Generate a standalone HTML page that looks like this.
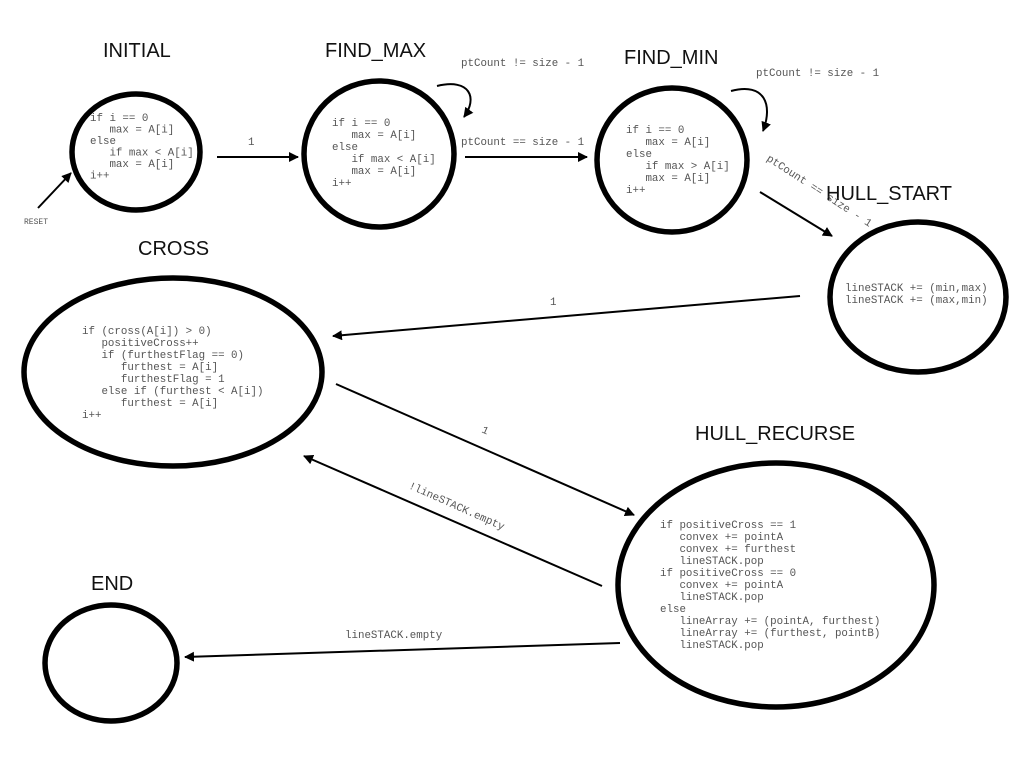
<!DOCTYPE html>
<html><head><meta charset="utf-8"><style>
html,body{margin:0;padding:0;background:#fff;}
svg{display:block;}
.t{font-family:"Liberation Sans",sans-serif;font-size:20px;fill:#111;}
.c text,.l text{font-family:"Liberation Mono",monospace;font-size:10.8px;fill:#555;white-space:pre;}
</style></head><body>
<svg width="1024" height="768" viewBox="0 0 1024 768" xmlns="http://www.w3.org/2000/svg">
<defs>
<marker id="a" markerWidth="10" markerHeight="10" refX="9" refY="5" orient="auto" markerUnits="userSpaceOnUse">
<path d="M0,0 L10,5 L0,10 Z" fill="#000"/></marker>
</defs>
<rect width="1024" height="768" fill="#fff"/>
<g fill="none" stroke="#000" stroke-width="5.5">
<ellipse cx="136" cy="152" rx="64" ry="58"/>
<ellipse cx="379" cy="154" rx="75" ry="73"/>
<ellipse cx="672" cy="160" rx="75" ry="72"/>
<ellipse cx="918" cy="297" rx="88" ry="75"/>
<ellipse cx="173" cy="372" rx="149" ry="94"/>
<ellipse cx="776" cy="585" rx="158" ry="122"/>
<ellipse cx="111" cy="663" rx="66" ry="58"/>
</g>
<text class="t" x="103" y="57">INITIAL</text>
<text class="t" x="325" y="57">FIND_MAX</text>
<text class="t" x="624" y="64">FIND_MIN</text>
<text class="t" x="826" y="200">HULL_START</text>
<text class="t" x="138" y="255">CROSS</text>
<text class="t" x="695" y="440">HULL_RECURSE</text>
<text class="t" x="91" y="590">END</text>

<g class="c">
<text x="90" y="121">if i == 0</text>
<text x="90" y="132.5">   max = A[i]</text>
<text x="90" y="144">else</text>
<text x="90" y="155.5">   if max &lt; A[i]</text>
<text x="90" y="167">   max = A[i]</text>
<text x="90" y="178.5">i++</text>

<text x="332" y="126">if i == 0</text>
<text x="332" y="138">   max = A[i]</text>
<text x="332" y="150">else</text>
<text x="332" y="162">   if max &lt; A[i]</text>
<text x="332" y="174">   max = A[i]</text>
<text x="332" y="186">i++</text>

<text x="626" y="133">if i == 0</text>
<text x="626" y="145">   max = A[i]</text>
<text x="626" y="157">else</text>
<text x="626" y="169">   if max &gt; A[i]</text>
<text x="626" y="181">   max = A[i]</text>
<text x="626" y="193">i++</text>

<text x="845" y="291">lineSTACK += (min,max)</text>
<text x="845" y="303">lineSTACK += (max,min)</text>

<text x="82" y="334">if (cross(A[i]) &gt; 0)</text>
<text x="82" y="346">   positiveCross++</text>
<text x="82" y="358">   if (furthestFlag == 0)</text>
<text x="82" y="370">      furthest = A[i]</text>
<text x="82" y="382">      furthestFlag = 1</text>
<text x="82" y="394">   else if (furthest &lt; A[i])</text>
<text x="82" y="406">      furthest = A[i]</text>
<text x="82" y="418">i++</text>

<text x="660" y="528">if positiveCross == 1</text>
<text x="660" y="540">   convex += pointA</text>
<text x="660" y="552">   convex += furthest</text>
<text x="660" y="564">   lineSTACK.pop</text>
<text x="660" y="576">if positiveCross == 0</text>
<text x="660" y="588">   convex += pointA</text>
<text x="660" y="600">   lineSTACK.pop</text>
<text x="660" y="612">else</text>
<text x="660" y="624">   lineArray += (pointA, furthest)</text>
<text x="660" y="636">   lineArray += (furthest, pointB)</text>
<text x="660" y="648">   lineSTACK.pop</text>
</g>

<g fill="none" stroke="#000" stroke-width="2">
<line x1="38" y1="208" x2="71" y2="173" marker-end="url(#a)"/>
<line x1="217" y1="157" x2="298" y2="157" marker-end="url(#a)"/>
<path d="M437,86 C470,78 478,98 464,117" marker-end="url(#a)"/>
<line x1="465" y1="157" x2="587" y2="157" marker-end="url(#a)"/>
<path d="M731,91 C765,82 773,105 763,131" marker-end="url(#a)"/>
<line x1="760" y1="192" x2="832" y2="236" marker-end="url(#a)"/>
<line x1="800" y1="296" x2="333" y2="336" marker-end="url(#a)"/>
<line x1="336" y1="384" x2="634" y2="515" marker-end="url(#a)"/>
<line x1="602" y1="586" x2="304" y2="456" marker-end="url(#a)"/>
<line x1="620" y1="643" x2="185" y2="657" marker-end="url(#a)"/>
</g>

<text x="24" y="224" style="font-family:'Liberation Mono',monospace;font-size:8px;fill:#555">RESET</text>
<g class="l">
<text x="248" y="145">1</text>
<text x="461" y="66">ptCount != size - 1</text>
<text x="461" y="145">ptCount == size - 1</text>
<text x="756" y="76">ptCount != size - 1</text>
<text x="550" y="305">1</text>
<text x="345" y="638">lineSTACK.empty</text>
<text transform="translate(766,160) rotate(33)">ptCount == size - 1</text>
<text transform="translate(481,432) rotate(24)">1</text>
<text transform="translate(408,488) rotate(24)">!lineSTACK.empty</text>
</g>
</svg>
</body></html>
